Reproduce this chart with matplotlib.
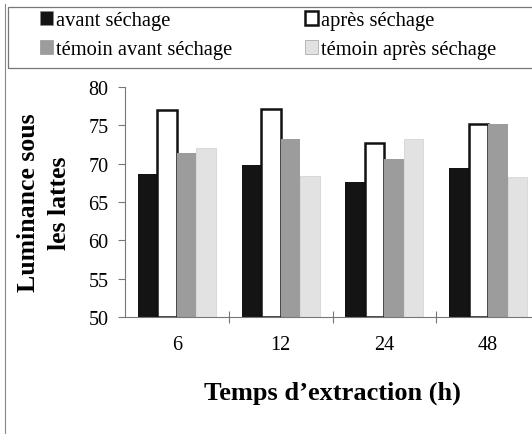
import matplotlib
matplotlib.use("Agg")
import matplotlib.pyplot as plt
from matplotlib.patches import Rectangle
from matplotlib.lines import Line2D
import numpy as np

plt.rcParams['font.family'] = ['Liberation Serif', 'DejaVu Serif']

# data
temps = ["6", "12", "24", "48"]
avant_sechage = [68.7, 69.8, 67.6, 69.5]
apres_sechage = [77.0, 77.1, 72.7, 75.2]
temoin_avant = [71.4, 73.2, 70.6, 75.2]
temoin_apres = [72.0, 68.4, 73.2, 68.3]

series_labels = ["avant séchage", "après séchage",
                 "témoin avant séchage", "témoin après séchage"]

W, H = 532, 435
fig = plt.figure(figsize=(W / 100, H / 100), dpi=100)
ax = fig.add_axes([125 / W, 1 - 318 / H, 1 - 125 / W, (318 - 88) / H])

x = np.arange(len(temps))
w = 0.188
styles = [
    dict(color="#141414", edgecolor="none"),
    dict(color="white", edgecolor="#111111", linewidth=1.8),
    dict(color="#9c9c9c", edgecolor="none"),
    dict(color="#e2e2e2", edgecolor="#cfcfcf", linewidth=0.5),
]
all_series = [avant_sechage, apres_sechage, temoin_avant, temoin_apres]
for i, (vals, st) in enumerate(zip(all_series, styles)):
    ax.bar(x + (i - 1.5) * w, np.array(vals) - 50, bottom=50, width=w, **st)

ax.set_ylim(50, 80)
ax.set_xlim(-0.5, 3.5 - 8 / 103.75)
ax.set_yticks(range(50, 81, 5))
ax.tick_params(axis='y', direction='out', length=5, width=0.8, color='#777777',
               labelsize=14.5, pad=7)

# category boundaries as ticks, labels centred on categories
ax.set_xticks(np.arange(len(temps) - 1) + 0.5)
ax.set_xticklabels([])
ax.tick_params(axis='x', which='major', direction='inout', length=8, width=0.8,
               color='#777777')
ax.set_xticks(x, minor=True)
ax.set_xticklabels(temps, minor=True)
ax.tick_params(axis='x', which='minor', length=0, labelsize=14.5, pad=13)

for s in ['top', 'right']:
    ax.spines[s].set_visible(False)
for s in ['left', 'bottom']:
    ax.spines[s].set_color('#777777')
    ax.spines[s].set_linewidth(0.8)

fig.text(332 / W, 1 - 393 / H, "Temps d’extraction (h)", fontsize=19,
         fontweight='bold', ha='center', va='center')
fig.text(44 / W, 1 - 203 / H, "Luminance sous\nles lattes", fontsize=18.5,
         fontweight='bold', rotation=90, ha='center', va='center',
         multialignment='center', linespacing=1.45)

# outer frame and legend box
fig.add_artist(Line2D([5 / W, 5 / W], [0, 1 - 5 / H], color='#888888', lw=0.8,
                      transform=fig.transFigure))
fig.add_artist(Rectangle((8 / W, 1 - 69 / H), 1, 61 / H, fill=False,
                         edgecolor='#777777', lw=0.9, transform=fig.transFigure))

handles = [Rectangle((0, 0), 1, 1, facecolor=st['color'],
                     edgecolor=('#111111' if st['color'] == 'white' else '#888888'),
                     linewidth=(1.8 if st['color'] == 'white' else 0.4))
           for st in styles]
# col1 = avant, témoin avant ; col2 = après, témoin après
order = [0, 2, 1, 3]
fig.legend([handles[i] for i in order], [series_labels[i] for i in order],
           ncol=2, loc='upper left', bbox_to_anchor=(40 / W, 1 - 12 / H),
           frameon=False, fontsize=14.8, borderpad=0, borderaxespad=0,
           handlelength=0.65, handleheight=0.65, handletextpad=0.15,
           labelspacing=0.5, columnspacing=3.5)

fig.savefig("out.png", dpi=100)
